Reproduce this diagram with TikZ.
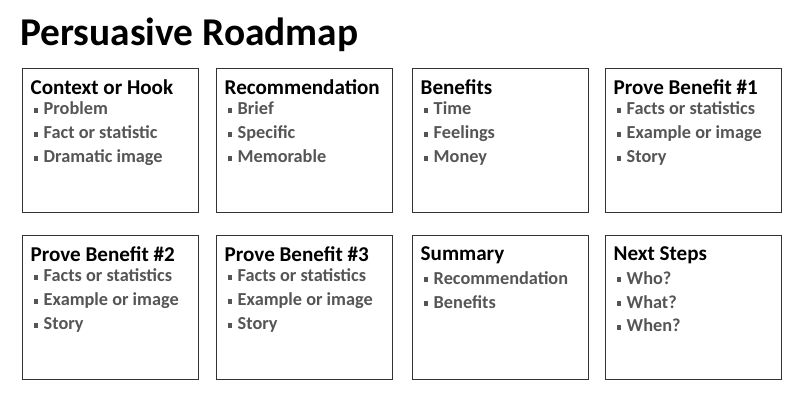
\documentclass[tikz,border=0pt]{standalone}
\usepackage{fontspec}
\setmainfont{Carlito}
\usepackage{xcolor}
\definecolor{itemgray}{HTML}{555555}
\newcommand{\bul}{{\color{itemgray}\rule[0.25ex]{0.55ex}{0.55ex}}\hspace{0.6ex}}

\begin{document}
\begin{tikzpicture}[x=0.025cm,y=-0.025cm,
  card/.style={draw=black!80,line width=0.8pt,minimum width=4.4cm,minimum height=3.6cm,anchor=north west,inner sep=0pt},
  head/.style={anchor=north west,inner sep=0pt,font=\fontsize{15}{18}\selectfont\bfseries},
  items/.style={anchor=north west,inner sep=0pt,align=left,text=itemgray,font=\fontsize{13}{17}\selectfont\bfseries}]
\useasboundingbox (0,0) rectangle (800,400);
% Title
\node[anchor=west,inner sep=0pt,font=\fontsize{28}{32}\selectfont\bfseries] (title) at (20,35) {Persuasive Roadmap};

% Cards
\foreach \n/\x/\y/\h/\t in {
  a/22/68/Context or Hook/{\bul Problem\\\bul Fact or statistic\\\bul Dramatic image},
  b/216/68/Recommendation/{\bul Brief\\\bul Specific\\\bul Memorable},
  c/412/68/Benefits/{\bul Time\\\bul Feelings\\\bul Money},
  d/605/68/Prove Benefit \#1/{\bul Facts or statistics\\\bul Example or image\\\bul Story},
  e/22/235/Prove Benefit \#2/{\bul Facts or statistics\\\bul Example or image\\\bul Story},
  f/216/235/Prove Benefit \#3/{\bul Facts or statistics\\\bul Example or image\\\bul Story},
  g/412/235/Summary/{\bul Recommendation\\\bul Benefits},
  h/605/235/Next Steps/{\bul Who?\\\bul What?\\\bul When?}} {
  \node[card] (\n) at (\x,\y) {};
  \node[head] (\n-head) at ([xshift=6pt,yshift=-8pt]\n.north west) {\h};
  \node[items] (\n-items) at ([xshift=2pt,yshift=-5pt]\n-head.south west) {\t};
}
\end{tikzpicture}
\end{document}
